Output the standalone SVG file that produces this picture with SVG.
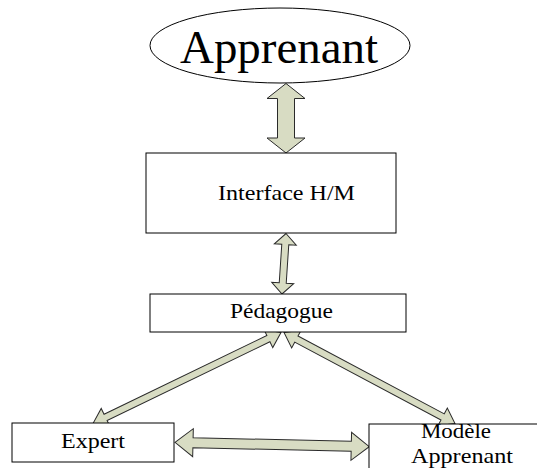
<svg xmlns="http://www.w3.org/2000/svg" width="537" height="468" viewBox="0 0 537 468">
  <style>
    .box { fill: #ffffff; stroke: #000000; stroke-width: 1; }
    .lbl { font-family: "Liberation Serif", "Times New Roman", serif; fill: #000000; text-anchor: middle; }
    .arr { fill: #d8dcc3; stroke: #2a2a2a; stroke-width: 1; stroke-linejoin: miter; }
  </style>
  <rect width="537" height="468" fill="#ffffff"/>
  <g id="connectors">
    <g id="a-apprenant-interface" transform="translate(286,83.5) rotate(90)">
      <polygon class="arr" points="0,0 15,-19 15,-8.5 54.5,-8.5 54.5,-19 69.5,0 54.5,19 54.5,8.5 15,8.5 15,19"/>
    </g>
    <g id="a-interface-pedagogue" transform="translate(286,233.5) rotate(93.78)">
      <polygon class="arr" points="0,0 11,-11 11,-3.5 49.6,-3.5 49.6,-11 60.6,0 49.6,11 49.6,3.5 11,3.5 11,11"/>
    </g>
    <g id="a-pedagogue-expert" transform="translate(281,332.5) rotate(154.17)">
      <polygon class="arr" points="0,0 14,-10 14,-3.5 194.9,-3.5 194.9,-10 208.9,0 194.9,10 194.9,3.5 14,3.5 14,10"/>
    </g>
    <g id="a-pedagogue-modele" transform="translate(284,332.5) rotate(28.02)">
      <polygon class="arr" points="0,0 14,-10 14,-3.5 179.7,-3.5 179.7,-10 193.7,0 179.7,10 179.7,3.5 14,3.5 14,10"/>
    </g>
    <g id="a-expert-modele" transform="translate(175,442.3) rotate(1.3)">
      <polygon class="arr" points="0,0 18,-14 18,-5 176.3,-5 176.3,-14 194.3,0 176.3,14 176.3,5 18,5 18,14"/>
    </g>
  </g>
  <g id="apprenant">
    <ellipse class="box" cx="280" cy="45.5" rx="130" ry="37.5"/>
    <text class="lbl" x="279" y="63" font-size="46" textLength="198" lengthAdjust="spacingAndGlyphs">Apprenant</text>
  </g>
  <g id="interface">
    <rect class="box" x="146" y="153" width="250" height="80"/>
    <text class="lbl" x="286.5" y="200" font-size="21" textLength="137" lengthAdjust="spacingAndGlyphs">Interface H/M</text>
  </g>
  <g id="pedagogue">
    <rect class="box" x="150" y="294" width="256" height="38"/>
    <text class="lbl" x="281.5" y="318" font-size="21" textLength="103" lengthAdjust="spacingAndGlyphs">Pédagogue</text>
  </g>
  <g id="expert">
    <rect class="box" x="12" y="423" width="162" height="39"/>
    <text class="lbl" x="93" y="448" font-size="21" textLength="64" lengthAdjust="spacingAndGlyphs">Expert</text>
  </g>
  <g id="modele-apprenant">
    <rect class="box" x="369" y="424" width="175" height="50"/>
    <text class="lbl" x="456" y="438" font-size="21" textLength="70" lengthAdjust="spacingAndGlyphs">Modèle</text>
    <text class="lbl" x="462" y="463" font-size="21" textLength="102" lengthAdjust="spacingAndGlyphs">Apprenant</text>
  </g>
</svg>
